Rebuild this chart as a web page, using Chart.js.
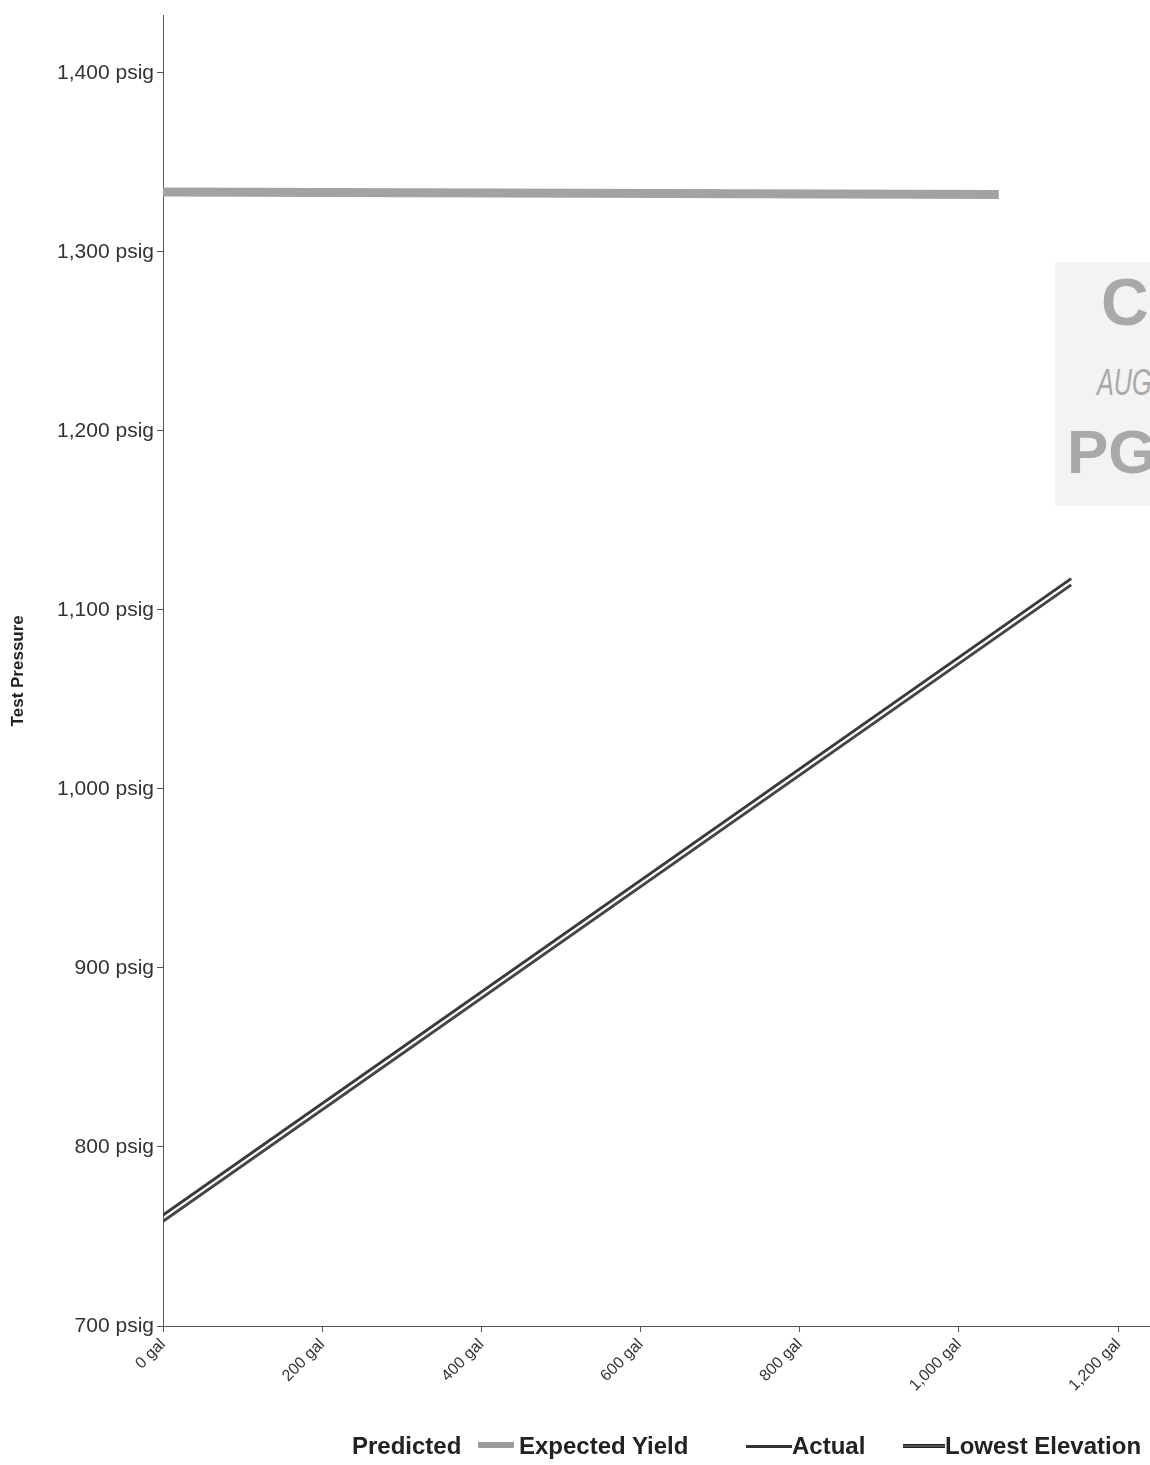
<!DOCTYPE html>
<html>
<head>
<meta charset="utf-8">
<script src="https://cdn.jsdelivr.net/npm/chart.js@4"></script>
<style>
  body { margin: 0; background: #fff; }
  #wrap { position: relative; width: 1150px; height: 1465px; overflow: hidden; font-family: Arial, "Liberation Sans", sans-serif; }
  #chart { position: absolute; left: 0; top: 0; }
  .lg { position: absolute; top: 1432px; font-weight: bold; font-size: 24px; color: #222; white-space: nowrap; }
  .sw { position: absolute; }
  .stamp { position: absolute; left: 1055px; top: 262px; width: 100px; height: 244px; background: #f3f3f3; color: #a9a9a9; overflow: hidden; }
  .stamp span { position: absolute; font-weight: bold; white-space: nowrap; }
</style>
</head>
<body>
<div id="wrap">
  <canvas id="chart" width="1150" height="1465"></canvas>
  <div class="stamp">
    <span style="left:46px; top:2px; font-size:66px;">C</span>
    <span style="left:42px; top:100px; font-size:36px; font-weight:normal; font-style:italic; transform:scaleX(0.7); transform-origin:left;">AUG</span>
    <span style="left:12px; top:154px; font-size:62px;">PG</span>
  </div>
  <div class="lg" style="left:352px;">Predicted</div>
  <div class="sw" style="left:478px; top:1442px; width:36px; height:6px; background:#9c9c9c;"></div>
  <div class="lg" style="left:519px;">Expected Yield</div>
  <div class="sw" style="left:746px; top:1445px; width:46px; height:3px; background:#333;"></div>
  <div class="lg" style="left:792px;">Actual</div>
  <div class="sw" style="left:903px; top:1444px; width:42px; height:4px; background:#555; border-top:1px solid #222; border-bottom:1px solid #222; box-sizing:border-box;"></div>
  <div class="lg" style="left:945px;">Lowest Elevation</div>
</div>
<script>
const xTicks = [0, 200, 400, 600, 800, 1000, 1200];
const yTicks = [700, 800, 900, 1000, 1100, 1200, 1300, 1400];

const expectedYieldGal = [0, 1050];
const expectedYieldPsig = [1333.5, 1332];
const actualGal = [0, 1141];
const actualPsig = [762, 1117.5];
const lowestGal = [0, 1141];
const lowestPsig = [758.5, 1114];

const FONT = "Arial, 'Liberation Sans', sans-serif";

function points(xs, ys) {
  return xs.map((x, i) => ({ x, y: ys[i] }));
}

function lineDataset(label, xs, ys, color, width) {
  return {
    label,
    data: points(xs, ys),
    showLine: true,
    borderColor: color,
    backgroundColor: color,
    borderWidth: width,
    pointRadius: 0,
    fill: false,
  };
}

new Chart(document.getElementById('chart'), {
  type: 'scatter',
  data: {
    datasets: [
      lineDataset('Predicted Expected Yield', expectedYieldGal, expectedYieldPsig, '#a2a2a2', 9),
      lineDataset('Actual', actualGal, actualPsig, '#3a3a3a', 3),
      lineDataset('Lowest Elevation', lowestGal, lowestPsig, '#454545', 3),
    ],
  },
  options: {
    responsive: false,
    animation: false,
    layout: { padding: { top: 8, right: 0, bottom: 59, left: 0 } },
    plugins: { legend: { display: false }, tooltip: { enabled: false } },
    scales: {
      x: {
        type: 'linear',
        min: 0,
        max: 1240,
        afterBuildTicks: (scale) => { scale.ticks = xTicks.map((value) => ({ value })); },
        afterFit: (scale) => { scale.height = 80; },
        ticks: {
          color: '#333',
          font: { family: FONT, size: 16 },
          minRotation: 45,
          maxRotation: 45,
          padding: 3,
          callback: (v) => `${v.toLocaleString('en-US')} gal`,
        },
        grid: { drawOnChartArea: false, drawTicks: true, tickLength: 6, color: '#555' },
        border: { display: true, color: '#555', width: 1 },
      },
      y: {
        type: 'linear',
        min: 700,
        max: 1432,
        afterBuildTicks: (scale) => { scale.ticks = yTicks.map((value) => ({ value })); },
        afterFit: (scale) => { scale.width = 163; },
        title: {
          display: true,
          text: 'Test Pressure',
          color: '#222',
          font: { family: FONT, size: 17, weight: 'bold' },
          padding: { top: 8, bottom: 0 },
        },
        ticks: {
          color: '#333',
          font: { family: FONT, size: 21 },
          padding: 3,
          callback: (v) => `${v.toLocaleString('en-US')} psig`,
        },
        grid: { drawOnChartArea: false, drawTicks: true, tickLength: 6, color: '#555' },
        border: { display: true, color: '#555', width: 1 },
      },
    },
  },
});
</script>
</body>
</html>
